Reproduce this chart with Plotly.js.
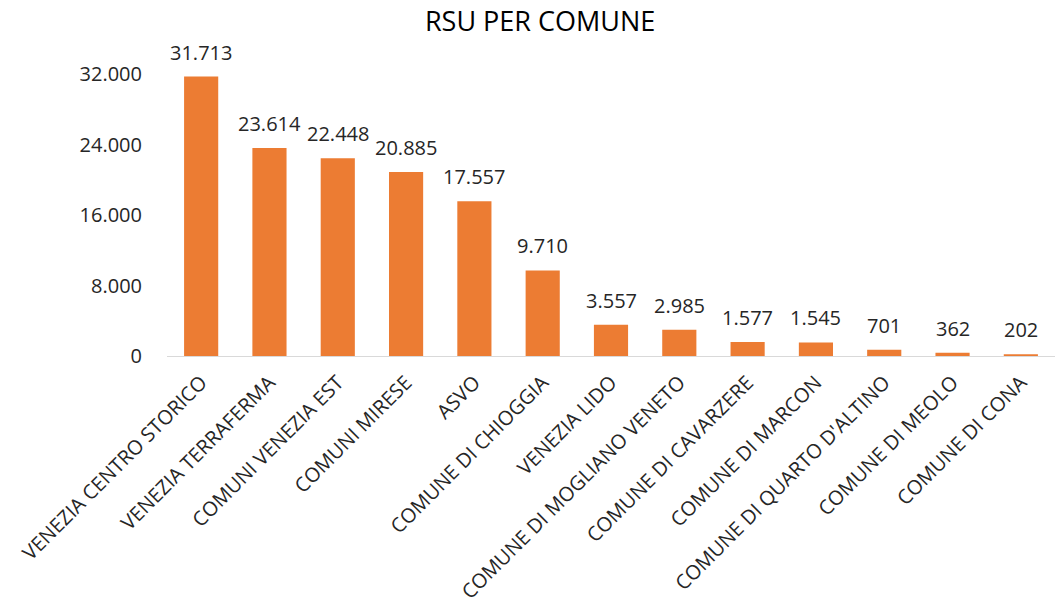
<!DOCTYPE html>
<html>
<head>
<meta charset="utf-8">
<script src="https://cdn.plot.ly/plotly-3.0.1.min.js"></script>
<style>html,body{margin:0;padding:0;background:#fff;}#chart{width:1055px;height:613px;}</style>
</head>
<body>
<div id="chart"></div>
<script>
const categories = ["VENEZIA CENTRO STORICO","VENEZIA TERRAFERMA","COMUNI VENEZIA EST","COMUNI MIRESE","ASVO","COMUNE DI CHIOGGIA","VENEZIA LIDO","COMUNE DI MOGLIANO VENETO","COMUNE DI CAVARZERE","COMUNE DI MARCON","COMUNE DI QUARTO D'ALTINO","COMUNE DI MEOLO","COMUNE DI CONA"];
const values = [31713,23614,22448,20885,17557,9710,3557,2985,1577,1545,701,362,202];
const tickVals = [0,8000,16000,24000,32000];
const tickText = ["0","8.000","16.000","24.000","32.000"];

const font = "Open Sans, Lato, sans-serif";
const fmt = v => v.toLocaleString("de-DE");
const labels = categories.map((c, i) => ({
  x: c, y: values[i], xref: "x", yref: "y",
  text: fmt(values[i]), showarrow: false,
  yanchor: "bottom", yshift: 9,
  font: {family: font, size: 20, color: "#262626"}
}));

Plotly.newPlot("chart", [{
  type: "bar",
  x: categories,
  y: values,
  marker: {color: "#EC7C33", line: {width: 0}},
  width: 0.5,
  cliponaxis: false,
  hoverinfo: "x+y"
}], {
  width: 1055, height: 613,
  separators: ",.",
  margin: {l: 167, r: 0, t: 74, b: 257},
  paper_bgcolor: "#fff", plot_bgcolor: "#fff",
  title: {text: "RSU PER COMUNE", x: 0.512, xref: "container", xanchor: "center", y: 0.98, yref: "container", font: {family: font, size: 27, color: "#000"}},
  showlegend: false,
  annotations: labels,
  xaxis: {
    tickangle: -45, showline: true, linecolor: "#D9D9D9", linewidth: 1,
    showgrid: false, ticks: "", ticklabelstandoff: 6,
    tickfont: {family: font, size: 20, color: "#262626"}
  },
  yaxis: {
    range: [0, 32000], tickvals: tickVals, ticktext: tickText,
    showgrid: false, zeroline: false, showline: false, ticks: "",
    ticklabelstandoff: 24,
    tickfont: {family: font, size: 20, color: "#262626"}
  },
  bargap: 0.5
}, {displayModeBar: false, staticPlot: true});
</script>
</body>
</html>
